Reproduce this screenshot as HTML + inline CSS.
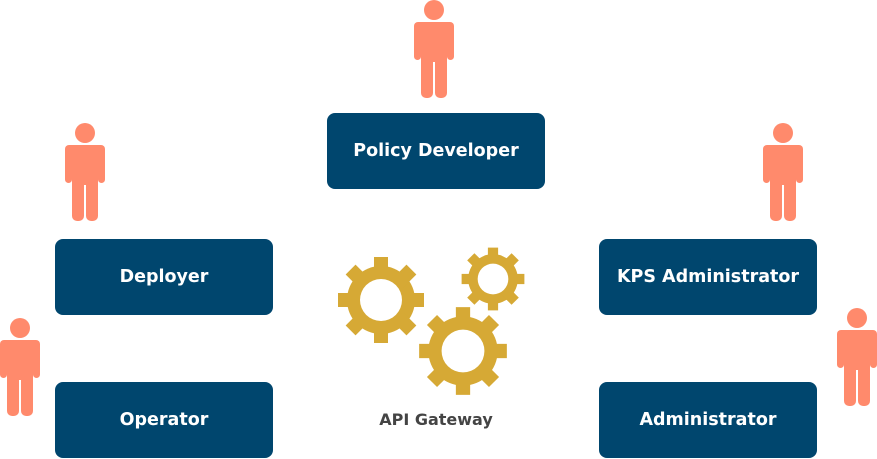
<!DOCTYPE html><html><head><style>
body{margin:0;width:877px;height:459px;background:#fff;position:relative;overflow:hidden;font-family:"DejaVu Sans","Liberation Sans",sans-serif}
.b{position:absolute;width:218px;height:76px;background:#00466e;border-radius:8px;color:#fff;font-weight:bold;font-size:17.5px;display:flex;align-items:center;justify-content:center}
svg{position:absolute;left:0;top:0}
</style></head><body>
<svg width="877" height="459">
<defs>
<g id="p" fill="#ff8a6c">
<circle cx="20" cy="10" r="10"/>
<rect x="0" y="22" width="40" height="12" rx="4"/>
<rect x="0" y="24" width="7" height="36" rx="3.5"/>
<rect x="33" y="24" width="7" height="36" rx="3.5"/>
<rect x="7" y="22" width="26" height="40"/>
<rect x="7" y="50" width="12" height="48" rx="5"/>
<rect x="21" y="50" width="12" height="48" rx="5"/>
</g>
<g id="g" fill="#d6a935">
<circle r="34"/>
<rect x="-7" y="-43" width="14" height="86"/>
<rect x="-7" y="-43" width="14" height="86" transform="rotate(45)"/>
<rect x="-7" y="-43" width="14" height="86" transform="rotate(90)"/>
<rect x="-7" y="-43" width="14" height="86" transform="rotate(135)"/>
<circle r="21" fill="#fff"/>
</g>
</defs>
<use href="#p" x="414" y="0"/>
<use href="#p" x="65" y="123"/>
<use href="#p" x="763" y="123"/>
<use href="#p" x="0" y="318"/>
<use href="#p" x="837" y="308"/>
<use href="#g" transform="translate(381,300)"/>
<use href="#g" transform="translate(463,351) scale(1.02)"/>
<use href="#g" transform="translate(493,279) scale(0.73)"/>
</svg>
<div class="b" style="left:327px;top:113px">Policy Developer</div>
<div class="b" style="left:55px;top:239px">Deployer</div>
<div class="b" style="left:599px;top:239px">KPS Administrator</div>
<div class="b" style="left:55px;top:382px">Operator</div>
<div class="b" style="left:599px;top:382px">Administrator</div>
<div style="position:absolute;left:336px;top:410px;width:200px;text-align:center;font-weight:bold;font-size:16px;color:#444">API Gateway</div>
</body></html>
